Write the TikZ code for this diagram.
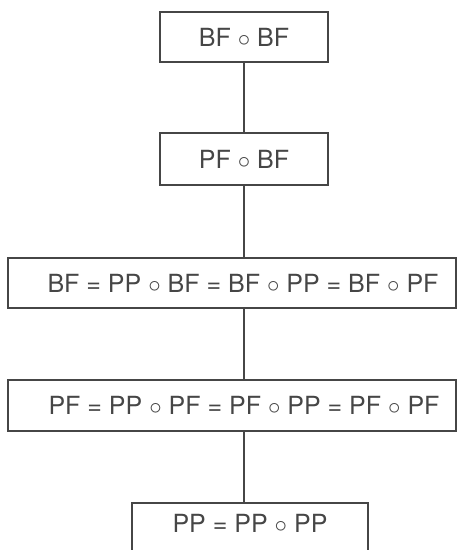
\documentclass[tikz,border=0pt]{standalone}
\usepackage{fontspec}
\setmainfont{TeX Gyre Heros}
\definecolor{ink}{RGB}{70,70,70}
\newcommand{\cmp}{{\fontsize{34}{34}\selectfont$\circ$}}
\begin{document}
\begin{tikzpicture}[x=1pt,y=1pt,
  box/.style={draw=ink, line width=1.7pt, inner sep=0pt, text=ink,
    font=\fontsize{25}{29}\selectfont},
  link/.style={draw=ink, line width=1.5pt}]
\useasboundingbox (0,0) rectangle (457,-550);
\node[box, minimum width=168pt, minimum height=50pt] (b1) at (244,-37) {BF \cmp\ BF};
\node[box, minimum width=168pt, minimum height=52pt] (b2) at (244,-159) {PF \cmp\ BF};
\node[box, minimum width=448pt, minimum height=50pt] (b3) at (232,-283)
  {\hspace*{22pt}BF = PP \cmp\ BF = BF \cmp\ PP = BF \cmp\ PF};
\node[box, minimum width=448pt, minimum height=51pt] (b4) at (232,-405.5)
  {\hspace*{24pt}PF = PP \cmp\ PF = PF \cmp\ PP = PF \cmp\ PF};
\node[box, minimum width=236pt, text height=29pt, text depth=40pt, anchor=base] (b5) at (250,-532)
  {PP = PP \cmp\ PP};
\draw[link] (b1.south) -- (b2.north);
\draw[link] (b2.south) -- (b2.south |- b3.north);
\draw[link] (b2.south |- b3.south) -- (b2.south |- b4.north);
\draw[link] (b2.south |- b4.south) -- (b2.south |- b5.north);
\end{tikzpicture}
\end{document}
